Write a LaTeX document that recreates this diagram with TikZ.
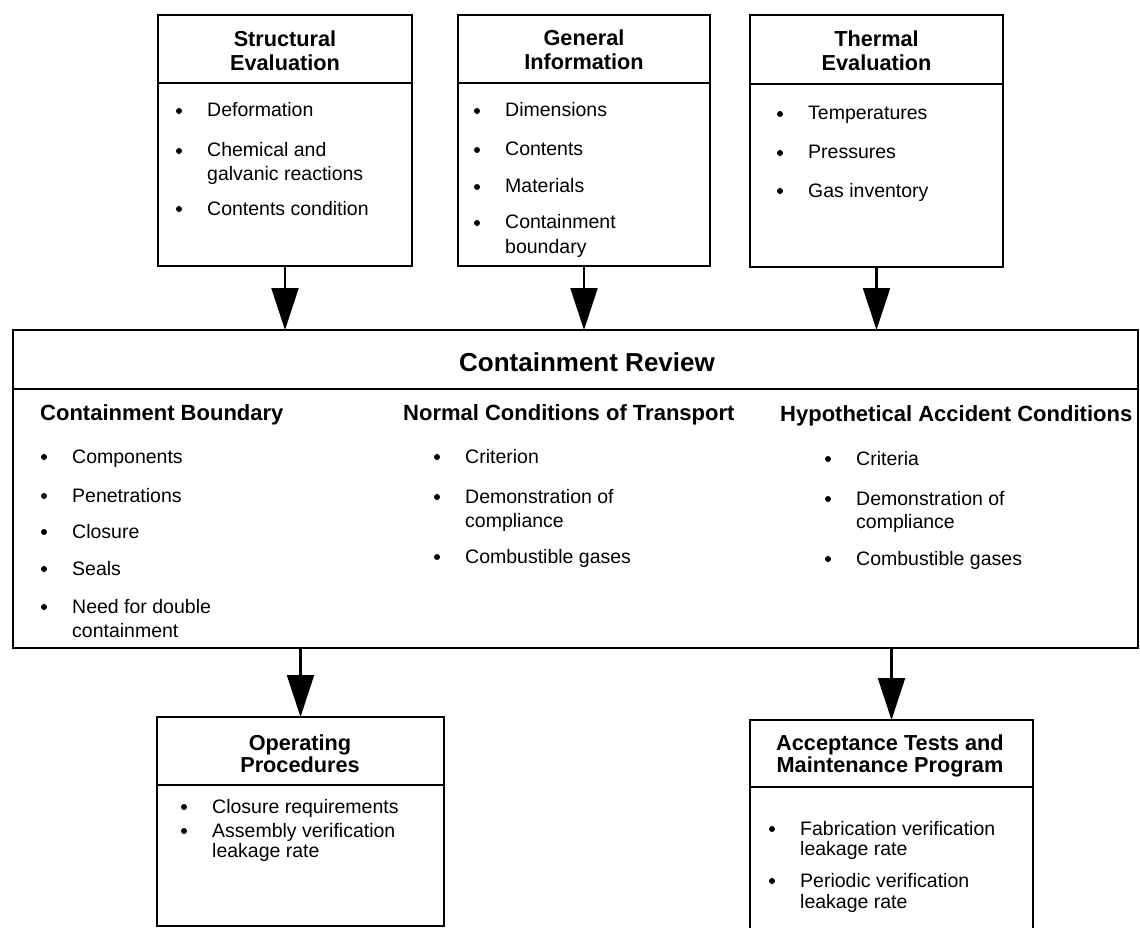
\documentclass[tikz,border=0pt]{standalone}
\usepackage{fontspec}
\setmainfont{Liberation Sans}
\usetikzlibrary{arrows.meta}
\tikzset{
  frame/.style={draw, line width=2.8pt, inner sep=0pt, outer sep=0pt},
  rule/.style={line width=2.6pt},
  body/.style={anchor=base west, inner sep=0pt, font=\fontsize{19.5}{23}\selectfont},
  ttl/.style={anchor=base, inner sep=0pt, font=\fontsize{21.7}{26}\selectfont\bfseries},
  sect/.style={anchor=base west, inner sep=0pt, font=\fontsize{22}{26}\selectfont\bfseries},
  headline/.style={anchor=base, inner sep=0pt, font=\fontsize{26}{30}\selectfont\bfseries},
  flow/.style={line width=2.2pt, -{Triangle[length=42pt,width=27pt]}},
}
% bullet item: name, x of text, baseline y, text
\newcommand{\bitem}[4]{%
  \fill (#2-28,#3-6) circle (3pt);
  \node[body] (#1) at (#2,#3) {#4};}
% continuation line of an item
\newcommand{\bline}[4]{\node[body] (#1) at (#2,#3) {#4};}
\begin{document}
\begin{tikzpicture}[x=1pt,y=-1pt]
\clip (0,0) rectangle (1140,928);
\fill[white] (0,0) rectangle (1140,928);

% ---------- input boxes ----------
\node[frame, minimum width=254pt, minimum height=251pt] (sb) at (285,140.5) {};
\draw[rule] (sb.west |- 0,83) -- (sb.east |- 0,83);
\node[ttl] (sbt1) at (285,47) {Structural};
\node[ttl] (sbt2) at (285,71) {Evaluation};
\bitem{sb1}{207}{117}{Deformation}
\bitem{sb2}{207}{157}{Chemical and}
\bline{sb2b}{207}{181}{galvanic reactions}
\bitem{sb3}{207}{215}{Contents condition}

\node[frame, minimum width=252pt, minimum height=251pt] (gi) at (584,140.5) {};
\draw[rule] (gi.west |- 0,83) -- (gi.east |- 0,83);
\node[ttl] (git1) at (584,46) {General};
\node[ttl] (git2) at (584,70) {Information};
\bitem{gi1}{505}{117}{Dimensions}
\bitem{gi2}{505}{156}{Contents}
\bitem{gi3}{505}{193}{Materials}
\bitem{gi4}{505}{229}{Containment}
\bline{gi4b}{505}{253}{boundary}

\node[frame, minimum width=253pt, minimum height=252pt] (te) at (876.5,141) {};
\draw[rule] (te.west |- 0,84) -- (te.east |- 0,84);
\node[ttl] (tet1) at (876.5,47) {Thermal};
\node[ttl] (tet2) at (876.5,71) {Evaluation};
\bitem{te1}{808}{120}{Temperatures}
\bitem{te2}{808}{159}{Pressures}
\bitem{te3}{808}{197}{Gas inventory}

% ---------- containment review ----------
\node[frame, minimum width=1125pt, minimum height=318pt] (cr) at (575.5,489) {};
\draw[rule] (cr.west |- 0,389) -- (cr.east |- 0,389);
\node[headline] (crt) at (587,371) {Containment Review};

\node[sect] (cbh) at (40,420) {Containment Boundary};
\bitem{cb1}{72}{463}{Components}
\bitem{cb2}{72}{502}{Penetrations}
\bitem{cb3}{72}{538}{Closure}
\bitem{cb4}{72}{575}{Seals}
\bitem{cb5}{72}{613}{Need for double}
\bline{cb5b}{72}{637}{containment}

\node[sect] (nch) at (403,420) {Normal Conditions of Transport};
\bitem{nc1}{465}{463}{Criterion}
\bitem{nc2}{465}{503}{Demonstration of}
\bline{nc2b}{465}{527}{compliance}
\bitem{nc3}{465}{563}{Combustible gases}

\node[sect] (hah) at (780,421) {Hypothetical Accident Conditions};
\bitem{ha1}{856}{465}{Criteria}
\bitem{ha2}{856}{505}{Demonstration of}
\bline{ha2b}{856}{528}{compliance}
\bitem{ha3}{856}{565}{Combustible gases}

% ---------- output boxes ----------
\node[frame, minimum width=287pt, minimum height=209pt] (op) at (300.5,821.5) {};
\draw[rule] (op.west |- 0,785) -- (op.east |- 0,785);
\node[ttl] (opt1) at (300,750) {Operating};
\node[ttl] (opt2) at (300,772) {Procedures};
\bitem{op1}{212}{813}{Closure requirements}
\bitem{op2}{212}{837}{Assembly verification}
\bline{op2b}{212}{857}{leakage rate}

\node[frame, minimum width=283pt, minimum height=214pt] (ac) at (891.5,827) {};
\draw[rule] (ac.west |- 0,787) -- (ac.east |- 0,787);
\node[ttl] (act1) at (890,750) {Acceptance Tests and};
\node[ttl] (act2) at (890,772) {Maintenance Program};
\bitem{ac1}{800}{835}{Fabrication verification}
\bline{ac1b}{800}{855}{leakage rate}
\bitem{ac2}{800}{887}{Periodic verification}
\bline{ac2b}{800}{908}{leakage rate}

% ---------- connectors ----------
\draw[flow] (sb.south) -- (sb.south |- cr.north);
\draw[flow] (gi.south) -- (gi.south |- cr.north);
\draw[flow] (te.south) -- (te.south |- cr.north);
\draw[flow] (cr.south -| op.north) -- (op.north);
\draw[flow] (cr.south -| ac.north) -- (ac.north);
\end{tikzpicture}
\end{document}
